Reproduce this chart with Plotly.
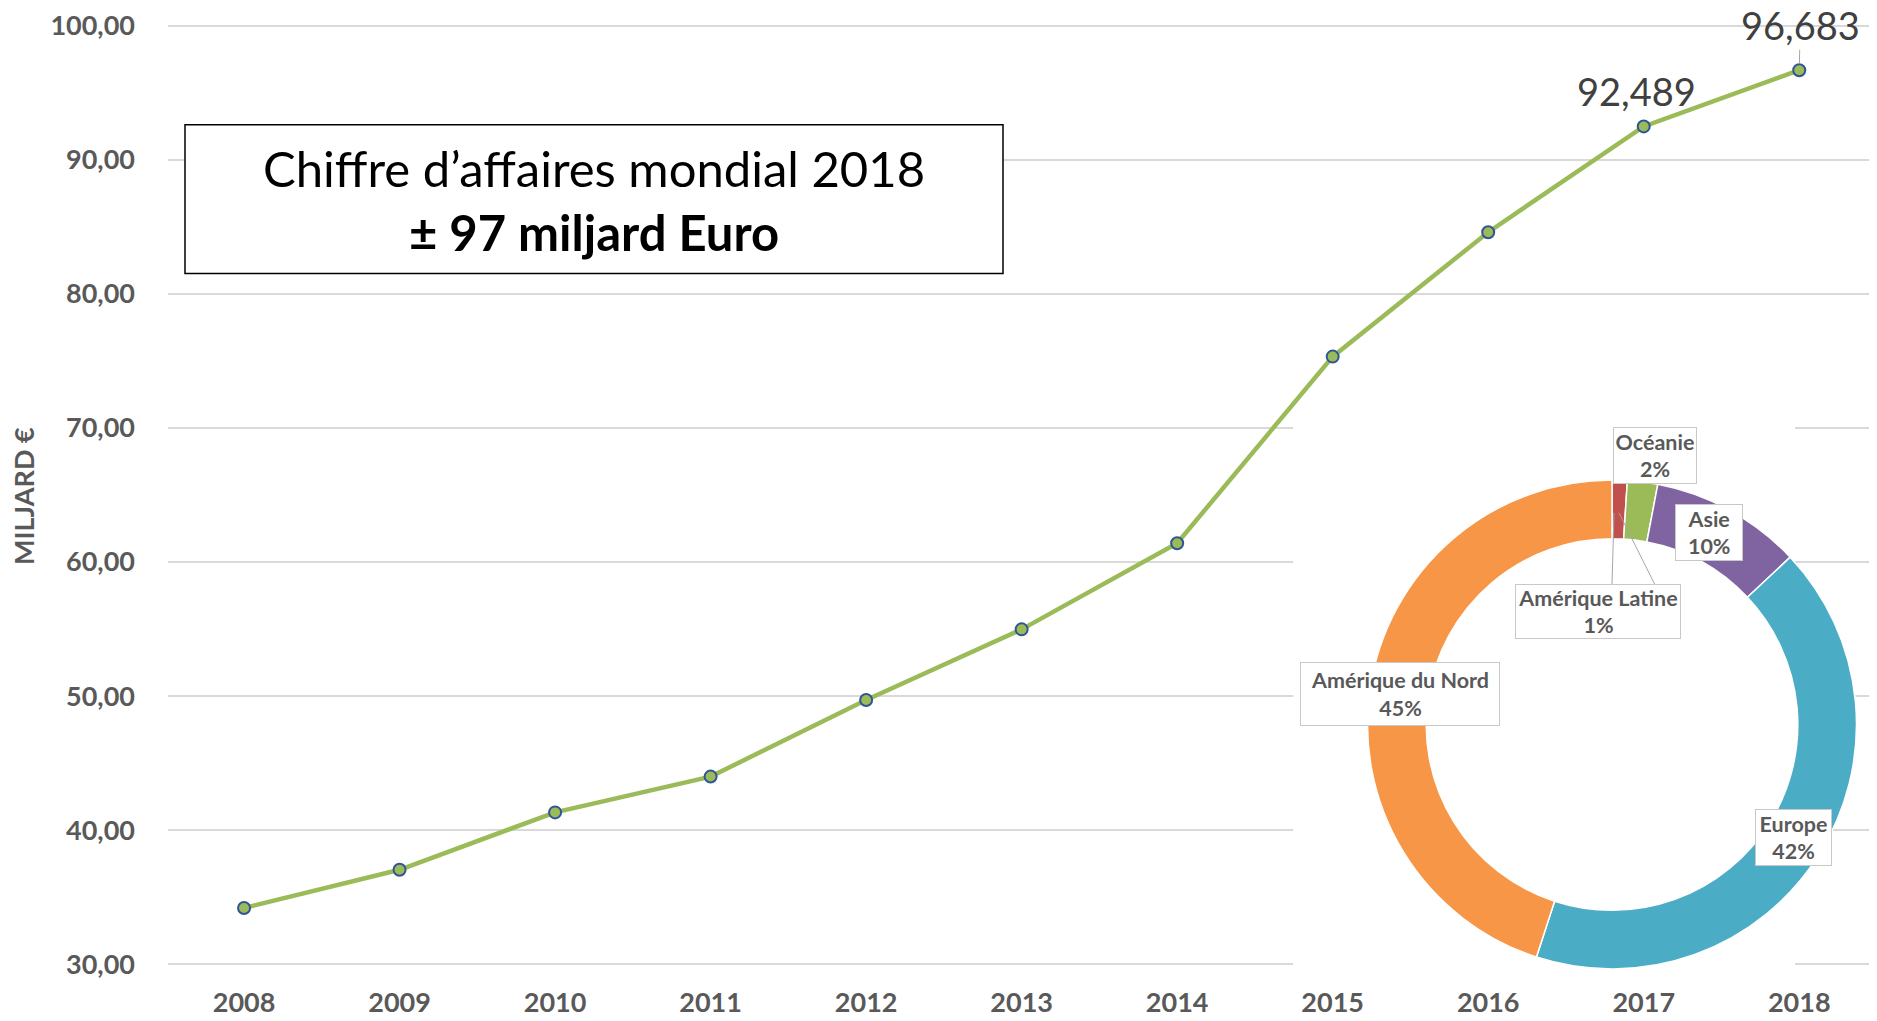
import plotly.graph_objects as go

years = [2008, 2009, 2010, 2011, 2012, 2013, 2014, 2015, 2016, 2017, 2018]
revenue = [34.2, 37.05, 41.33, 44.0, 49.71, 54.98, 61.4, 75.32, 84.6, 92.489, 96.683]
y_ticks = [30, 40, 50, 60, 70, 80, 90, 100]
y_tick_text = ["30,00", "40,00", "50,00", "60,00", "70,00", "80,00", "90,00", "100,00"]

regions = ["Amérique Latine", "Océanie", "Asie", "Europe", "Amérique du Nord"]
shares = [1, 2, 10, 42, 45]
region_colors = ["#C0504D", "#9BBB59", "#8064A2", "#4BACC6", "#F79646"]

# page body has an 8px margin: figure is shifted by OFF
OFF = 8
W, H = 1877 - OFF, 1021 - OFF
ML, MR, MT, MB = 168 - OFF, 0, 17 - OFF, 50
PW, PH = W - ML - MR, H - MT - MB

def px(x):  # page pixel -> paper fraction
    return (x - OFF - ML) / PW

def py(y):
    return (H - MB - (y - OFF)) / PH

FONT = "Lato"
GREY = "#595959"

fig = go.Figure()

fig.add_trace(go.Scatter(
    x=years, y=revenue, mode="lines+markers",
    line=dict(color="#9BBB59", width=4.5),
    marker=dict(size=12, color="#9BBB59", line=dict(color="#2F5597", width=2)),
    showlegend=False, hoverinfo="x+y",
))

fig.add_trace(go.Pie(
    labels=regions, values=shares, sort=False, direction="clockwise", rotation=0,
    hole=0.76, textinfo="none", showlegend=False,
    marker=dict(colors=region_colors, line=dict(color="white", width=1.5)),
    domain=dict(x=[px(1612 - 245), px(1612 + 245)], y=[py(724 + 245), py(724 - 245)]),
))

fig.update_layout(
    width=W, height=H,
    margin=dict(l=ML, r=MR, t=MT, b=MB, pad=0),
    paper_bgcolor="white", plot_bgcolor="white",
    font=dict(family=FONT, color=GREY),
    xaxis=dict(
        range=[2007.511, 2018.5], tickvals=years, ticktext=[str(y) for y in years],
        showgrid=False, zeroline=False, showline=False, ticks="",
        tickfont=dict(family=FONT, size=27, color=GREY, weight="bold"),
        ticklabelstandoff=13, ticklabeloverflow="allow",
    ),
    yaxis=dict(
        range=[29.5, 100.5], tickvals=y_ticks, ticktext=y_tick_text,
        showgrid=True, gridcolor="#D9D9D9", gridwidth=2, zeroline=False, showline=False,
        ticks="", tickfont=dict(family=FONT, size=27, color=GREY, weight="bold"),
        ticklabelstandoff=32, ticklabeloverflow="allow",
    ),
)

shapes = []
# white background of the donut panel (hides gridlines)
shapes.append(dict(type="rect", xref="x", yref="y", layer="between",
                   x0=2007.511 + (1293 - 168) / 155.5, x1=2007.511 + (1795 - 168) / 155.5,
                   y0=29.0, y1=29.5 + (971 - 422) / 13.44,
                   fillcolor="white", line=dict(width=0)))
# title box
shapes.append(dict(type="rect", xref="paper", yref="paper", layer="above",
                   x0=px(185), x1=px(1003), y0=py(272), y1=py(123),
                   fillcolor="white", line=dict(color="black", width=1.5)))
# donut leader lines
for (x0, y0, x1, y1) in [(1612, 584, 1614, 512), (1655, 584, 1619, 512)]:
    shapes.append(dict(type="line", xref="paper", yref="paper", layer="above",
                       x0=px(x0), y0=py(y0), x1=px(x1), y1=py(y1),
                       line=dict(color="#A6A6A6", width=1)))
fig.update_layout(shapes=shapes)

ann = []
ann.append(dict(xref="paper", yref="paper", x=px(594), y=py(166), showarrow=False,
                xanchor="center", yanchor="middle",
                text="Chiffre d’affaires mondial 2018",
                font=dict(family=FONT, size=49, color="black")))
ann.append(dict(xref="paper", yref="paper", x=px(594), y=py(230), showarrow=False,
                xanchor="center", yanchor="middle",
                text="<b>± 97 miljard Euro</b>",
                font=dict(family=FONT, size=49, color="black")))
ann.append(dict(xref="paper", yref="paper", x=px(24), y=py(495), showarrow=False,
                xanchor="center", yanchor="middle",
                text="<b>MILJARD €</b>", textangle=-90,
                font=dict(family=FONT, size=27, color=GREY)))
# value labels
ann.append(dict(x=years[9], y=revenue[9], text="92,489", showarrow=False,
                xanchor="center", yanchor="middle",
                xshift=-7, yshift=35, font=dict(family=FONT, size=38, color="#404040")))
ann.append(dict(x=years[10], y=revenue[10], text="96,683", showarrow=True,
                ax=1, ay=-45, arrowhead=0, arrowwidth=1, arrowcolor="#A6A6A6", standoff=7,
                font=dict(family=FONT, size=38, color="#404040")))
# donut labels (centre x, centre y, box width, box height) in page pixels
label_boxes = {
    "Océanie": (1655, 454, 84, 57),
    "Asie": (1709, 532, 68, 57),
    "Amérique Latine": (1598, 611, 166, 55),
    "Amérique du Nord": (1400, 693, 200, 64),
    "Europe": (1793, 837, 77, 57),
}
for name, share in zip(regions, shares):
    cx, cy, bw, bh = label_boxes[name]
    ann.append(dict(xref="paper", yref="paper", x=px(cx), y=py(cy), showarrow=False,
                    xanchor="center", yanchor="middle",
                    text=f"<b>{name}<br>{share}%</b>", align="center",
                    width=bw - 4, height=bh - 4, borderpad=1,
                    bgcolor="white", bordercolor="#C8C8C8", borderwidth=1,
                    font=dict(family=FONT, size=21.5, color=GREY)))
fig.update_layout(annotations=ann)

fig.write_html("out.html")
